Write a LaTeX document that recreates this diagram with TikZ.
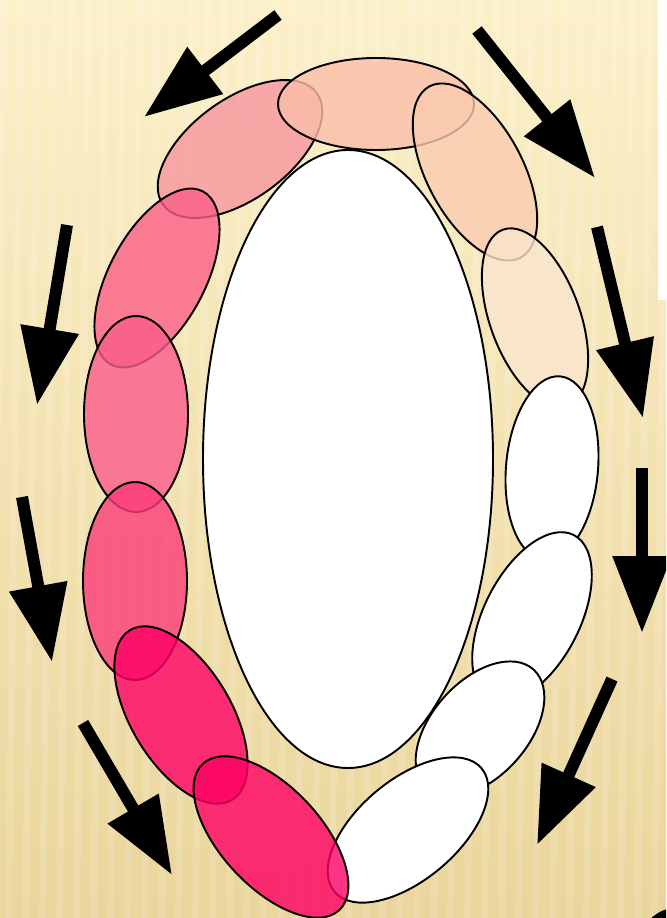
\documentclass[tikz,border=0pt]{standalone}
\usetikzlibrary{arrows.meta}
\definecolor{bgtop}{RGB}{252,240,201}
\definecolor{bgbot}{RGB}{234,213,155}
\definecolor{ringA}{RGB}{250,190,170}
\definecolor{ringB}{RGB}{246,150,158}
\definecolor{ringC}{RGB}{250,203,176}
\definecolor{ringD}{RGB}{250,230,206}
\definecolor{ringE}{RGB}{250,95,135}
\definecolor{ringF}{RGB}{250,92,138}
\definecolor{ringG}{RGB}{252,60,120}
\definecolor{ringH}{RGB}{255,0,100}
\begin{document}
\begin{tikzpicture}[x=0.02cm,y=-0.02cm,
    petal/.style={draw=black,line width=1.1pt},
    bigarrow/.style={line width=0.24cm,-{Triangle[length=1.54cm,width=1.12cm]}}]
        \useasboundingbox (0,0) rectangle (666,918);
        \clip (0,0) rectangle (666,918);
        \shade[top color=bgtop,bottom color=bgbot] (0,0) rectangle (666,918);
        \foreach \s in {0,17,...,700}
          \fill[white,opacity=0.14] (\s,0) -- (\s+7,0) -- (\s-5,918) -- (\s-12,918) -- cycle;
        \fill[white] (658,0) rectangle (666,300);
        \fill (680,950) circle (43);
        \draw[petal,fill=white] (348,459) ellipse [x radius=145,y radius=309];
        \foreach \cx/\cy/\ang/\ra/\rb/\col/\op in {240/149/36/95/50/ringB/0.8, 376/104/0/98/46/ringA/0.8,
            475/172/-62/97/48/ringC/0.8, 535/318/-70/94/45/ringD/0.8, 552/468/85/92/46/white/1,
            532/617/63/92/48/white/1, 480/729/48/80/48/white/1, 408/830/40/96/50/white/1,
            157/278/62/98/48/ringE/0.8, 136/414/90/98/52/ringF/0.8, 135/581/90/99/52/ringG/0.8,
            181/715/-59/99/50/ringH/0.8, 271/837/-47/100/50/ringH/0.8}{
          \draw[petal,fill=\col,fill opacity=\op,rotate around={\ang:(\cx,\cy)}] (\cx,\cy) ellipse [x radius=\ra,y radius=\rb];}
        \foreach \xa/\ya/\xb/\yb in {278/15/144/117, 477/30/595/178, 597/227/643/418, 642/468/642/633,
            612/679/537/845, 67/225/37/405, 22/497/52/662, 83/723/172/875}
          \draw[bigarrow] (\xa,\ya) -- (\xb,\yb);
\end{tikzpicture}
\end{document}
